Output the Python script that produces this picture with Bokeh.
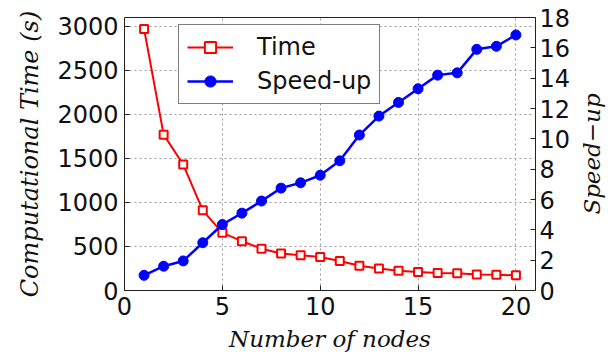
import math
from bokeh.plotting import figure
from bokeh.layouts import row
from bokeh.models import Range1d, LinearAxis, FixedTicker, Legend, LegendItem
from bokeh.core.properties import value
from bokeh.embed import file_html
from bokeh.resources import INLINE

nodes = list(range(1, 21))
time_s = [2970, 1770, 1430, 910, 655, 560, 475, 420, 400, 380,
          335, 280, 250, 225, 210, 198, 196, 183, 180, 172]
speedup = [1.0, 1.6, 1.95, 3.15, 4.35, 5.1, 5.9, 6.75, 7.1, 7.6,
           8.55, 10.25, 11.5, 12.4, 13.3, 14.2, 14.35, 15.9, 16.1, 16.85]

x_ticks = [0, 5, 10, 15, 20]
time_ticks = [0, 500, 1000, 1500, 2000, 2500, 3000]
speed_ticks = [0, 2, 4, 6, 8, 10, 12, 14, 16, 18]

TICK_FONT = "DejaVu Sans"
LABEL_FONT = "DejaVu Serif"

p = figure(output_backend="svg", toolbar_location=None,
           width=577, height=358,
           min_border_left=124, min_border_right=42,
           min_border_top=17, min_border_bottom=68,
           x_range=Range1d(0, 21), y_range=Range1d(0, 3100))
p.extra_y_ranges = {"speed": Range1d(0, 18)}

p.outline_line_color = "#222222"
p.outline_line_width = 1

def style_axis(ax, label_size="23px"):
    ax.axis_line_color = None
    ax.major_tick_in = 5
    ax.major_tick_out = 0
    ax.minor_tick_line_color = None
    ax.major_tick_line_color = "#222222"
    ax.major_label_text_font = TICK_FONT
    ax.major_label_text_font_size = "24px"
    ax.major_label_text_color = "#111111"
    ax.axis_label_text_font = LABEL_FONT
    ax.axis_label_text_font_style = "italic"
    ax.axis_label_text_font_size = label_size
    ax.axis_label_text_color = "#111111"

p.xaxis.ticker = FixedTicker(ticks=x_ticks)
p.yaxis.ticker = FixedTicker(ticks=time_ticks)
p.xaxis.axis_label = "Number of nodes"
p.yaxis.axis_label = "Computational Time (s)"
style_axis(p.xaxis[0])
style_axis(p.yaxis[0], "24px")
p.xaxis.major_label_standoff = 6
p.yaxis.major_label_standoff = 6
p.xaxis.axis_label_standoff = 8
p.yaxis.axis_label_standoff = 10

right = LinearAxis(y_range_name="speed", ticker=FixedTicker(ticks=speed_ticks))
style_axis(right)
right.major_label_standoff = 4
p.add_layout(right, "right")

for g in (p.xgrid[0], p.ygrid[0]):
    g.grid_line_color = "#9a9a9a"
    g.grid_line_dash = "2 3"
    g.grid_line_width = 1
p.xgrid.ticker = FixedTicker(ticks=x_ticks)
p.ygrid.ticker = FixedTicker(ticks=time_ticks)

l1 = p.line(nodes, time_s, line_color="red", line_width=2)
m1 = p.scatter(nodes, time_s, marker="square", size=8, line_color="red",
               line_width=2, fill_color="white")
l2 = p.line(nodes, speedup, line_color="blue", line_width=2.5, y_range_name="speed")
m2 = p.scatter(nodes, speedup, marker="circle", size=10, line_color="blue",
               fill_color="blue", y_range_name="speed")

legend = Legend(items=[LegendItem(label="Time", renderers=[l1, m1]),
                       LegendItem(label="Speed-up", renderers=[l2, m2])],
                location=(54, 186))
legend.border_line_color = "black"
legend.border_line_width = 1
legend.background_fill_color = "white"
legend.background_fill_alpha = 1
legend.padding = 8
legend.margin = 0
legend.spacing = 6
legend.glyph_width = 46
legend.glyph_height = 28
legend.label_height = 28
legend.label_standoff = 24
legend.label_text_font = TICK_FONT
legend.label_text_font_size = "24px"
legend.label_text_color = "#111111"
p.add_layout(legend)

# narrow strip on the right holding the right-hand axis title (bottom-to-top)
side = figure(output_backend="svg", toolbar_location=None,
              width=36, height=358, x_axis_type=None, y_axis_type=None,
              min_border_left=0, min_border_right=0,
              min_border_top=17, min_border_bottom=68,
              x_range=Range1d(0, 1), y_range=Range1d(0, 1))
side.outline_line_color = None
side.grid.visible = False
side.text(x=[0.4], y=[0.5], text=["Speed\u2212up"], angle=math.pi / 2,
          text_align="center", text_baseline="middle",
          text_font=value(LABEL_FONT), text_font_style="italic",
          text_font_size="23px", text_color="#111111")

layout = row(p, side, spacing=0)
open("out.html", "w").write(file_html(layout, INLINE))
